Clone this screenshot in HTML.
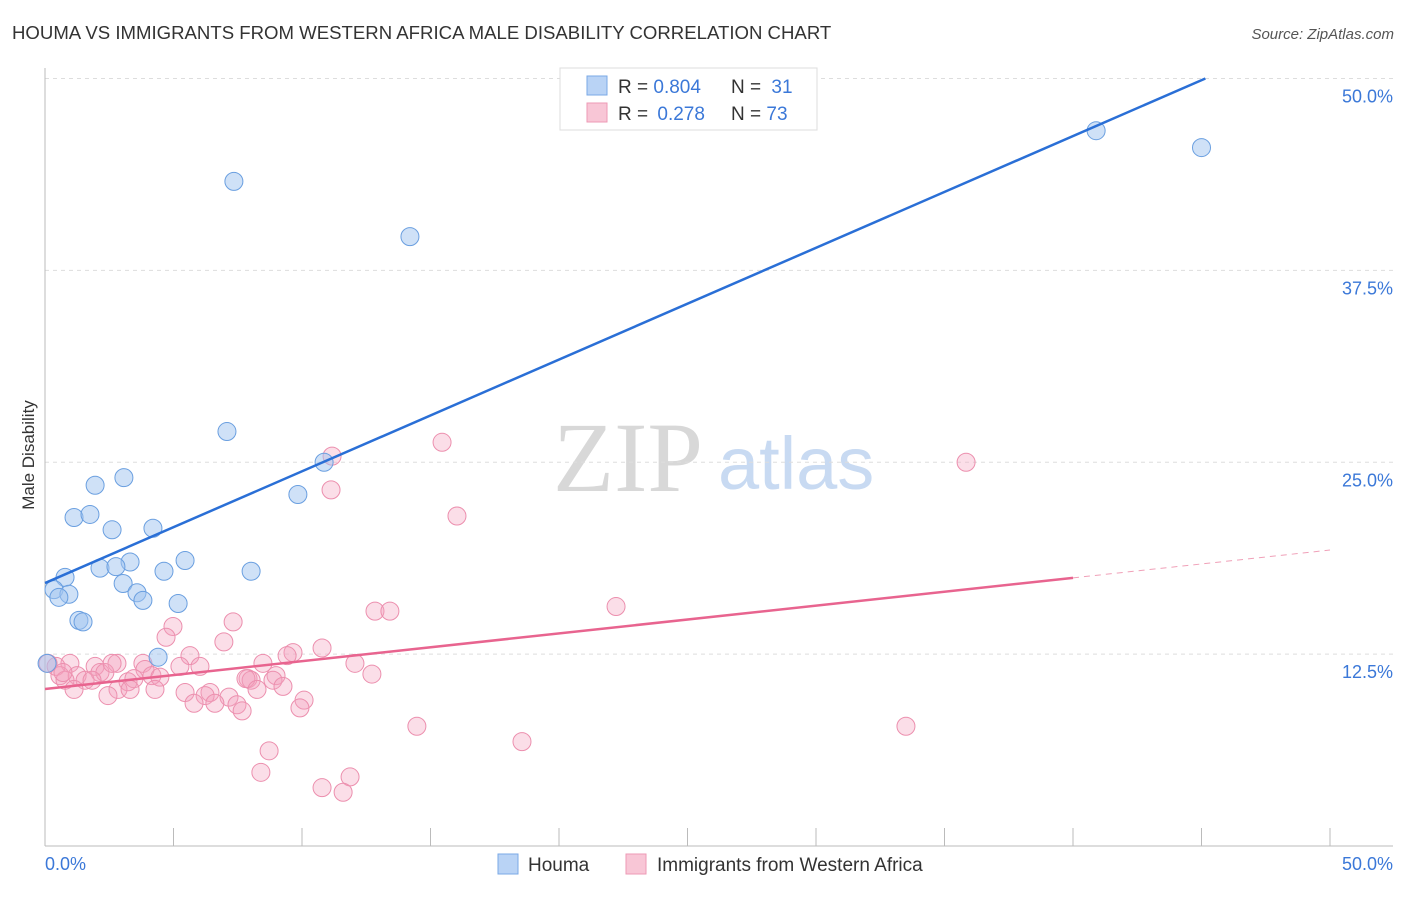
<!DOCTYPE html>
<html><head><meta charset="utf-8"><style>
body{margin:0;background:#fff;font-family:"Liberation Sans",sans-serif}
svg text{font-family:"Liberation Sans",sans-serif}
</style></head><body>
<svg width="1406" height="892" xmlns="http://www.w3.org/2000/svg">
<text x="12" y="39" font-size="18.6" fill="#333">HOUMA VS IMMIGRANTS FROM WESTERN AFRICA MALE DISABILITY CORRELATION CHART</text>
<text x="1394" y="39" font-size="15" fill="#555" font-style="italic" text-anchor="end">Source: ZipAtlas.com</text>
<g>
<text x="553" y="491" font-size="100" fill="#d8d8d8" style="font-family:'Liberation Serif',serif">ZIP</text>
<text x="718" y="489" font-size="74" fill="#c8daf2">atlas</text>
</g>
<g id="grid"></g>
<g id="axes"></g>
<g id="pts"></g>
<g id="lines"></g>
<text x="34" y="455" font-size="17" fill="#333" text-anchor="middle" transform="rotate(-90 34 455)">Male Disability</text>
<g>
<rect x="560" y="68" width="257" height="62" fill="#fff" stroke="#ddd"/>
<rect x="587" y="76" width="20" height="19" fill="#b9d3f5" stroke="#7aa8e6"/>
<rect x="587" y="103" width="20" height="19" fill="#f8c6d6" stroke="#ee9ab5"/>
<text x="618" y="93" font-size="19" fill="#333">R = <tspan fill="#3b78d8">0.804</tspan></text>
<text x="731" y="93" font-size="19" fill="#333">N = <tspan fill="#3b78d8" dx="5">31</tspan></text>
<text x="618" y="120" font-size="19" fill="#333">R = <tspan fill="#3b78d8" dx="4">0.278</tspan></text>
<text x="731" y="120" font-size="19" fill="#333">N = <tspan fill="#3b78d8">73</tspan></text>
</g>
<g>
<rect x="498" y="854" width="20" height="20" fill="#b9d3f5" stroke="#7aa8e6"/>
<text x="528" y="871" font-size="19" fill="#333">Houma</text>
<rect x="626" y="854" width="20" height="20" fill="#f8c6d6" stroke="#ee9ab5"/>
<text x="657" y="871" font-size="19" fill="#333">Immigrants from Western Africa</text>
</g>
</svg>
<script>
const yTicks=[12.5,25,37.5,50];
const yTickLabels=["12.5%","25.0%","37.5%","50.0%"];
const xTicks=[0,5,10,15,20,25,30,35,40,45,50];
const houmaX=[7.35,14.2,40.9,45.0,7.08,3.07,1.95,10.86,9.84,1.13,1.75,2.61,4.2,5.45,3.31,2.14,2.76,4.63,8.02,0.78,3.04,0.35,0.93,0.54,3.58,3.81,5.18,1.32,1.48,4.4,0.08];
const houmaY=[43.3,39.7,46.6,45.5,27.0,24.0,23.5,25.0,22.9,21.4,21.6,20.6,20.7,18.6,18.5,18.1,18.2,17.9,17.9,17.5,17.1,16.7,16.4,16.2,16.5,16.0,15.8,14.7,14.6,12.3,11.9];
const immX=[15.45,11.17,11.13,16.03,35.84,22.22,12.84,13.42,7.32,4.98,4.71,6.96,10.78,9.65,9.42,5.64,12.06,12.72,8.48,3.81,2.8,1.95,0.97,0.43,0.12,5.25,6.03,8.99,7.9,3.89,4.16,2.14,2.33,1.25,0.58,0.78,1.56,3.23,3.46,4.47,8.02,8.87,7.82,1.13,2.84,3.31,4.28,5.45,6.42,7.16,6.23,8.25,9.26,2.45,10.08,9.92,5.8,6.61,7.47,7.67,14.47,33.5,18.56,8.72,8.4,11.87,10.78,11.6,0.7,1.83,2.61];
const immY=[26.3,25.4,23.2,21.5,25.0,15.6,15.3,15.3,14.6,14.3,13.6,13.3,12.9,12.6,12.4,12.4,11.9,11.2,11.9,11.9,11.9,11.7,11.9,11.7,11.9,11.7,11.7,11.1,10.9,11.5,11.1,11.3,11.3,11.1,11.1,10.8,10.8,10.7,10.9,11.0,10.8,10.8,10.9,10.2,10.2,10.2,10.2,10.0,10.0,9.7,9.8,10.2,10.4,9.8,9.5,9.0,9.3,9.3,9.2,8.8,7.8,7.8,6.8,6.2,4.8,4.5,3.8,3.5,11.3,10.8,11.9];
const houmaFit=[17.13,0.728];
const immFit=[10.23,0.181];
const NS="http://www.w3.org/2000/svg";
const X=v=>45+v*25.7, Y=v=>846-v*15.35;
function mk(p,t,a){const e=document.createElementNS(NS,t);for(const k in a)e.setAttribute(k,a[k]);document.getElementById(p).appendChild(e);return e;}
yTicks.forEach((t,i)=>{
 const g=mk('grid','line',{x1:45,x2:1393,y1:Y(t),y2:Y(t),stroke:'#ddd','stroke-dasharray':'4 4'});
 
 
 const l=mk('grid','text',{x:1393,y:Y(t)+24,'font-size':18,fill:'#3b78d8','text-anchor':'end'});l.textContent=yTickLabels[i];
 
 
});
mk('axes','line',{x1:45,x2:45,y1:68,y2:846,stroke:'#bbb'});
mk('axes','line',{x1:45,x2:1393,y1:846,y2:846,stroke:'#bbb'});
xTicks.forEach(t=>{const e=mk('axes','line',{x1:X(t),x2:X(t),y1:828,y2:846,stroke:'#bbb'});
 
 });
let a=mk('axes','text',{x:45,y:870,'font-size':18,fill:'#3b78d8'});a.textContent='0.0%';


a=mk('axes','text',{x:1393,y:870,'font-size':18,fill:'#3b78d8','text-anchor':'end'});a.textContent='50.0%';


immX.forEach((x,i)=>{const c=mk('pts','circle',{cx:X(x),cy:Y(immY[i]),r:9,fill:'rgba(244,160,190,0.35)',stroke:'#ec8fae','stroke-width':1});
 
 });
houmaX.forEach((x,i)=>{const c=mk('pts','circle',{cx:X(x),cy:Y(houmaY[i]),r:9,fill:'rgba(160,196,240,0.5)',stroke:'#6a9fe0','stroke-width':1});
 
 });
const bx=(50-houmaFit[0])/houmaFit[1];
let l=mk('lines','line',{x1:X(0),y1:Y(houmaFit[0]),x2:X(bx),y2:Y(50),stroke:'#2a6fd6','stroke-width':2.5});


l=mk('lines','line',{x1:X(0),y1:Y(immFit[0]),x2:X(40),y2:Y(immFit[0]+40*immFit[1]),stroke:'#e8648f','stroke-width':2.5});


l=mk('lines','line',{x1:X(40),y1:Y(immFit[0]+40*immFit[1]),x2:X(50),y2:Y(immFit[0]+50*immFit[1]),stroke:'#f0a0b8','stroke-width':1,'stroke-dasharray':'6 5'});


</script>
</body></html>
